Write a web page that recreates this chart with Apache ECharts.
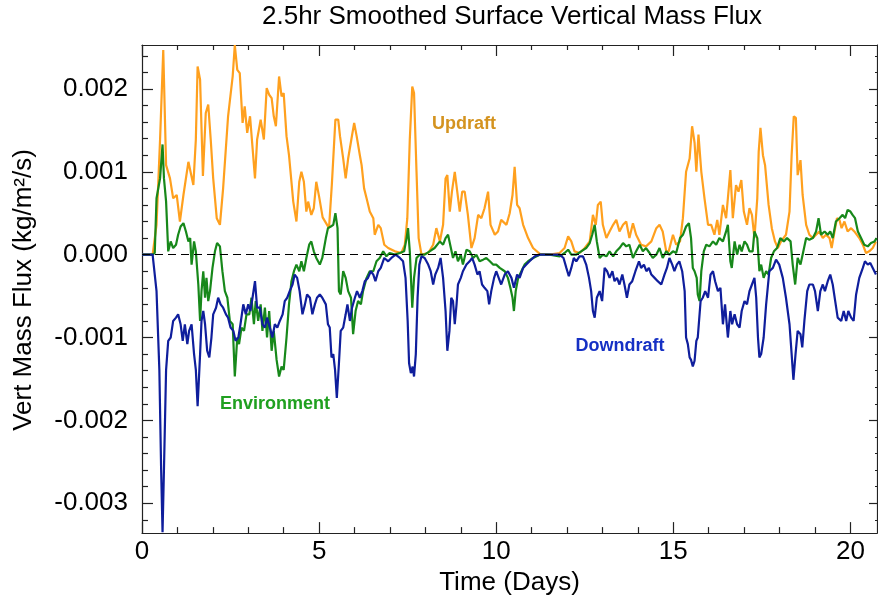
<!DOCTYPE html>
<html>
<head>
<meta charset="utf-8">
<script src="https://cdn.jsdelivr.net/npm/echarts@6/dist/echarts.min.js"></script>
<style>
  html, body { margin: 0; padding: 0; background: #fff; }
  #chart { width: 878px; height: 601px; }
</style>
</head>
<body>
<div id="chart"></div>
<script>
// values in 1e-3 kg/m2/s, time in days
let updraft = [[0,0],[0.3,0],[0.41,0.36],[0.51,1.39],[0.6,2.47],[0.68,1.08],[0.79,0.92],[0.88,0.68],[0.98,0.72],[1.07,0.40],[1.17,0.72],[1.31,1.12],[1.37,1.0],[1.45,0.84],[1.52,1.39],[1.57,2.27],[1.64,2.11],[1.72,0.95],[1.80,1.71],[1.87,1.81],[1.94,1.39],[2.01,0.92],[2.11,0.44],[2.20,0.36],[2.29,0.80],[2.43,1.67],[2.56,2.15],[2.62,2.53],[2.69,2.23],[2.76,2.19],[2.84,1.59],[2.90,1.79],[2.97,1.47],[3.05,1.67],[3.19,0.92],[3.25,1.39],[3.35,1.63],[3.44,1.39],[3.52,2.01],[3.59,1.93],[3.66,1.89],[3.72,1.67],[3.78,1.55],[3.87,2.15],[3.94,1.91],[4.0,1.95],[4.08,1.43],[4.15,1.20],[4.27,0.64],[4.36,0.40],[4.44,0.88],[4.50,1.0],[4.57,0.88],[4.64,0.52],[4.69,0.64],[4.78,0.48],[4.85,0.56],[4.92,0.88],[5.0,0.70],[5.1,0.45],[5.28,0.32],[5.36,0.85],[5.46,1.63],[5.54,1.63],[5.59,1.43],[5.68,1.16],[5.75,0.92],[5.82,1.16],[5.91,1.39],[5.99,1.59],[6.06,1.43],[6.15,1.20],[6.20,1.08],[6.27,0.80],[6.34,0.68],[6.43,0.52],[6.53,0.44],[6.57,0.24],[6.67,0.36],[6.74,0.32],[6.84,0.12],[6.95,0.08],[7.14,0.04],[7.32,0.02],[7.42,0.12],[7.49,0.44],[7.56,1.39],[7.63,2.03],[7.68,1.95],[7.75,1.0],[7.81,0.20],[7.89,0.0],[8.08,0.02],[8.22,0.12],[8.31,0.32],[8.41,0.16],[8.50,0.36],[8.57,0.92],[8.62,0.96],[8.69,0.52],[8.75,0.76],[8.83,1.0],[8.90,0.76],[8.97,0.52],[9.04,0.76],[9.11,0.76],[9.20,0.48],[9.30,0.08],[9.39,0.20],[9.49,0.48],[9.58,0.44],[9.67,0.56],[9.77,0.76],[9.84,0.36],[9.96,0.24],[10.05,0.28],[10.14,0.42],[10.29,0.36],[10.38,0.50],[10.46,0.72],[10.52,1.06],[10.59,0.60],[10.66,0.56],[10.76,0.36],[10.90,0.20],[11.04,0.08],[11.23,0.01],[11.51,0.0],[11.79,0.02],[11.93,0.08],[12.03,0.22],[12.12,0.16],[12.21,0.04],[12.35,0.02],[12.50,0.08],[12.64,0.16],[12.73,0.48],[12.81,0.36],[12.87,0.60],[12.95,0.64],[13.01,0.36],[13.11,0.20],[13.20,0.28],[13.30,0.36],[13.39,0.42],[13.48,0.28],[13.58,0.36],[13.67,0.40],[13.76,0.20],[13.86,0.38],[13.95,0.24],[14.09,0.12],[14.23,0.10],[14.38,0.16],[14.52,0.32],[14.61,0.36],[14.70,0.28],[14.80,0.04],[14.87,0.04],[14.99,0.24],[15.08,0.12],[15.19,0.16],[15.27,0.44],[15.36,1.0],[15.46,1.16],[15.53,1.55],[15.60,1.35],[15.65,1.0],[15.71,1.45],[15.79,1.0],[15.88,0.68],[15.98,0.36],[16.07,0.36],[16.16,0.24],[16.24,0.42],[16.30,0.24],[16.40,0.60],[16.49,0.44],[16.54,0.68],[16.61,1.02],[16.68,0.44],[16.77,0.84],[16.84,0.76],[16.92,0.90],[16.99,0.52],[17.08,0.36],[17.15,0.56],[17.22,0.48],[17.29,0.20],[17.37,0.68],[17.41,1.24],[17.46,1.53],[17.53,1.20],[17.59,1.08],[17.69,0.60],[17.78,0.32],[17.87,0.16],[17.95,0.08],[18.04,0.16],[18.18,0.24],[18.28,0.52],[18.34,1.20],[18.40,1.67],[18.46,1.65],[18.51,0.96],[18.59,1.14],[18.65,0.72],[18.75,0.36],[18.84,0.24],[18.94,0.20],[19.03,0.24],[19.12,0.28],[19.22,0.20],[19.31,0.24],[19.41,0.20],[19.47,0.08],[19.55,0.28],[19.62,0.44],[19.69,0.42],[19.75,0.32],[19.83,0.40],[19.92,0.28],[20.02,0.32],[20.11,0.28],[20.25,0.20],[20.35,0.12],[20.44,0.02],[20.53,0.04],[20.63,0.08],[20.72,0.16]];

let environment = [[0,0],[0.3,0],[0.36,0.02],[0.41,0.68],[0.51,0.92],[0.58,1.33],[0.62,0.92],[0.68,0.64],[0.74,0.04],[0.81,0.16],[0.88,0.08],[0.96,0.12],[1.02,0.24],[1.09,0.34],[1.17,0.38],[1.24,0.28],[1.31,0.16],[1.36,0.20],[1.40,-0.12],[1.47,0.16],[1.52,0.04],[1.59,-0.36],[1.64,-0.80],[1.68,-0.44],[1.73,-0.20],[1.78,-0.52],[1.82,-0.28],[1.87,-0.56],[1.92,-0.44],[1.99,-0.16],[2.06,0.04],[2.12,0.14],[2.20,0.10],[2.27,-0.20],[2.34,-0.44],[2.41,-0.52],[2.48,-0.80],[2.56,-0.84],[2.62,-1.47],[2.69,-1.0],[2.74,-1.08],[2.81,-0.88],[2.88,-0.92],[2.95,-0.72],[3.03,-0.72],[3.09,-0.52],[3.16,-0.84],[3.21,-0.56],[3.28,-0.80],[3.35,-0.60],[3.40,-0.92],[3.47,-0.64],[3.53,-1.0],[3.59,-0.68],[3.66,-1.16],[3.72,-0.92],[3.80,-1.27],[3.87,-1.47],[3.94,-1.35],[4.0,-1.39],[4.08,-1.0],[4.15,-0.60],[4.22,-0.32],[4.29,-0.20],[4.36,-0.12],[4.44,-0.20],[4.50,-0.08],[4.57,-0.20],[4.64,-0.04],[4.72,0.12],[4.78,0.16],[4.85,0.04],[4.92,-0.04],[5.02,-0.12],[5.09,-0.04],[5.19,0.20],[5.25,0.32],[5.33,0.34],[5.40,0.36],[5.46,0.50],[5.52,0.32],[5.56,-0.44],[5.61,-0.48],[5.68,-0.20],[5.75,-0.28],[5.82,-0.44],[5.90,-0.52],[5.96,-0.96],[6.03,-0.68],[6.10,-0.56],[6.18,-0.60],[6.24,-0.44],[6.34,-0.28],[6.43,-0.20],[6.53,-0.20],[6.62,-0.08],[6.71,-0.04],[6.81,0.04],[6.90,-0.02],[6.99,0.02],[7.14,0.0],[7.28,0.02],[7.40,0.04],[7.47,0.20],[7.51,0.32],[7.56,0.04],[7.63,-0.64],[7.68,-0.28],[7.75,-0.04],[7.84,0.0],[7.98,0.0],[8.12,0.04],[8.26,0.08],[8.41,0.16],[8.50,0.12],[8.57,0.20],[8.64,0.24],[8.72,0.08],[8.78,-0.04],[8.85,0.04],[8.92,-0.08],[9.0,0.0],[9.06,-0.12],[9.16,0.06],[9.25,0.04],[9.35,-0.04],[9.44,0.0],[9.53,-0.08],[9.63,-0.06],[9.72,-0.04],[9.82,-0.08],[9.91,-0.12],[10.0,-0.12],[10.10,-0.16],[10.24,-0.20],[10.33,-0.28],[10.40,-0.40],[10.46,-0.52],[10.50,-0.68],[10.55,-0.44],[10.62,-0.28],[10.71,-0.20],[10.80,-0.12],[10.90,-0.08],[11.04,-0.04],[11.23,0],[11.51,0],[11.79,-0.02],[11.93,0.02],[12.03,0.06],[12.12,0],[12.26,0],[12.40,0.04],[12.54,0.08],[12.64,0.14],[12.71,0.24],[12.78,0.36],[12.84,0.16],[12.92,-0.04],[13.01,0],[13.11,-0.02],[13.20,0.04],[13.30,-0.02],[13.39,0.04],[13.48,0.08],[13.58,0.14],[13.67,0.10],[13.76,0.12],[13.86,-0.04],[13.95,0.04],[14.05,0.12],[14.14,0.04],[14.23,0.08],[14.33,0.02],[14.42,-0.04],[14.52,0],[14.61,0.08],[14.70,-0.04],[14.80,0.04],[14.89,0],[14.99,0.04],[15.08,0.02],[15.19,0.20],[15.27,0.24],[15.36,0.34],[15.44,0.38],[15.50,0.20],[15.55,-0.16],[15.60,-0.20],[15.66,-0.28],[15.69,-0.48],[15.74,-0.56],[15.79,-0.20],[15.86,0.04],[15.93,0.12],[16.02,0.10],[16.12,0.16],[16.21,0.12],[16.30,0.20],[16.40,0.16],[16.49,0.28],[16.54,0.36],[16.61,-0.08],[16.65,-0.16],[16.73,0.16],[16.80,0],[16.87,0.12],[16.93,0.04],[17.01,0.16],[17.08,0.12],[17.15,0.04],[17.24,0.04],[17.29,0.28],[17.37,0.20],[17.43,-0.20],[17.48,-0.12],[17.55,-0.28],[17.62,-0.20],[17.69,-0.24],[17.76,-0.04],[17.84,0.04],[17.93,0.08],[18.02,0.20],[18.12,0.16],[18.21,0.20],[18.31,0.16],[18.37,-0.12],[18.44,-0.36],[18.51,-0.04],[18.59,-0.12],[18.65,0],[18.75,0.20],[18.84,0.18],[18.94,0.20],[19.03,0.28],[19.10,0.44],[19.17,0.24],[19.27,0.28],[19.36,0.24],[19.43,0.28],[19.50,0.20],[19.59,0.40],[19.69,0.44],[19.78,0.48],[19.85,0.44],[19.92,0.54],[20.0,0.52],[20.06,0.48],[20.13,0.44],[20.21,0.28],[20.30,0.20],[20.39,0.12],[20.49,0.10],[20.58,0.14],[20.68,0.16],[20.74,0.20]];

let downdraft = [[0,0],[0.3,0],[0.32,-0.08],[0.41,-0.44],[0.49,-1.39],[0.54,-2.59],[0.58,-3.35],[0.62,-2.59],[0.68,-1.39],[0.74,-1.04],[0.81,-1.0],[0.88,-0.80],[0.96,-0.76],[1.02,-0.72],[1.09,-0.84],[1.15,-1.04],[1.21,-0.84],[1.28,-1.08],[1.33,-0.92],[1.40,-0.84],[1.47,-1.20],[1.52,-1.39],[1.57,-1.83],[1.64,-1.20],[1.68,-0.80],[1.73,-0.68],[1.78,-0.84],[1.84,-1.16],[1.90,-1.24],[1.96,-1.0],[2.01,-0.72],[2.09,-0.64],[2.15,-0.52],[2.22,-0.60],[2.29,-0.64],[2.37,-0.72],[2.43,-0.76],[2.50,-0.88],[2.58,-0.92],[2.64,-1.04],[2.72,-1.0],[2.78,-0.84],[2.86,-0.60],[2.93,-0.72],[3.0,-0.60],[3.06,-0.68],[3.12,-0.52],[3.19,-0.32],[3.25,-0.64],[3.33,-0.64],[3.40,-0.84],[3.47,-0.88],[3.53,-0.76],[3.61,-0.88],[3.68,-1.0],[3.75,-0.84],[3.82,-0.88],[3.89,-0.80],[3.97,-0.72],[4.03,-0.56],[4.10,-0.52],[4.17,-0.44],[4.25,-0.36],[4.31,-0.24],[4.38,-0.28],[4.45,-0.44],[4.53,-0.72],[4.60,-0.60],[4.66,-0.48],[4.74,-0.52],[4.81,-0.72],[4.88,-0.60],[4.94,-0.52],[5.02,-0.48],[5.09,-0.52],[5.19,-0.60],[5.25,-0.84],[5.30,-0.88],[5.35,-1.24],[5.40,-1.20],[5.45,-1.39],[5.50,-1.73],[5.56,-1.31],[5.61,-0.92],[5.68,-0.88],[5.75,-0.72],[5.80,-0.60],[5.87,-0.80],[5.93,-0.64],[6.01,-0.52],[6.07,-0.44],[6.15,-0.52],[6.22,-0.44],[6.29,-0.32],[6.38,-0.28],[6.46,-0.20],[6.53,-0.24],[6.59,-0.32],[6.67,-0.20],[6.74,-0.16],[6.84,-0.04],[6.95,-0.08],[7.04,-0.04],[7.16,0],[7.28,-0.04],[7.37,-0.08],[7.44,-0.28],[7.50,-0.80],[7.54,-1.31],[7.59,-1.43],[7.64,-1.35],[7.68,-1.47],[7.73,-1.20],[7.78,-0.52],[7.83,-0.12],[7.89,-0.02],[7.98,-0.04],[8.08,-0.12],[8.15,-0.20],[8.22,-0.36],[8.28,-0.24],[8.36,-0.16],[8.43,-0.04],[8.50,-0.28],[8.57,-0.68],[8.62,-1.16],[8.68,-0.92],[8.73,-0.52],[8.78,-0.56],[8.83,-0.84],[8.88,-0.60],[8.92,-0.36],[9.0,-0.28],[9.06,-0.20],[9.16,-0.12],[9.25,-0.08],[9.32,-0.04],[9.39,-0.12],[9.47,-0.24],[9.53,-0.20],[9.60,-0.36],[9.67,-0.40],[9.75,-0.44],[9.80,-0.60],[9.86,-0.44],[9.94,-0.28],[10.0,-0.20],[10.07,-0.28],[10.14,-0.36],[10.24,-0.24],[10.33,-0.20],[10.43,-0.28],[10.50,-0.40],[10.59,-0.24],[10.66,-0.28],[10.76,-0.16],[10.85,-0.12],[10.94,-0.08],[11.09,-0.02],[11.23,0],[11.79,0],[11.90,-0.04],[11.98,-0.16],[12.05,-0.26],[12.12,-0.16],[12.19,-0.04],[12.26,-0.08],[12.35,-0.02],[12.45,-0.02],[12.54,-0.12],[12.62,-0.28],[12.68,-0.44],[12.73,-0.68],[12.78,-0.76],[12.84,-0.52],[12.92,-0.44],[12.99,-0.56],[13.06,-0.16],[13.13,-0.20],[13.20,-0.28],[13.28,-0.20],[13.34,-0.32],[13.41,-0.28],[13.48,-0.36],[13.56,-0.24],[13.62,-0.36],[13.69,-0.52],[13.76,-0.36],[13.84,-0.32],[13.93,-0.20],[14.03,-0.08],[14.09,-0.16],[14.17,-0.12],[14.24,-0.20],[14.31,-0.16],[14.38,-0.24],[14.47,-0.28],[14.56,-0.32],[14.66,-0.36],[14.75,-0.24],[14.82,-0.16],[14.89,-0.04],[14.97,-0.12],[15.03,-0.20],[15.10,-0.12],[15.17,-0.08],[15.25,-0.20],[15.32,-0.44],[15.36,-1.0],[15.41,-1.08],[15.46,-1.24],[15.50,-1.27],[15.55,-1.35],[15.60,-1.28],[15.65,-1.04],[15.69,-1.0],[15.77,-0.56],[15.83,-0.52],[15.90,-0.44],[15.98,-0.52],[16.05,-0.24],[16.12,-0.20],[16.18,-0.32],[16.26,-0.44],[16.33,-0.40],[16.40,-0.84],[16.46,-0.60],[16.54,-1.0],[16.61,-0.68],[16.66,-0.84],[16.73,-0.72],[16.80,-0.84],[16.87,-0.88],[16.93,-0.68],[17.01,-0.56],[17.08,-0.60],[17.15,-0.44],[17.22,-0.36],[17.29,-0.28],[17.34,-0.52],[17.39,-1.0],[17.43,-1.24],[17.48,-1.20],[17.55,-1.0],[17.62,-0.60],[17.71,-0.20],[17.81,-0.16],[17.90,-0.06],[17.99,-0.12],[18.09,-0.28],[18.18,-0.52],[18.28,-0.84],[18.34,-1.20],[18.39,-1.51],[18.45,-1.20],[18.51,-0.92],[18.59,-0.96],[18.64,-1.12],[18.70,-0.80],[18.78,-0.44],[18.84,-0.36],[18.94,-0.36],[19.0,-0.44],[19.08,-0.68],[19.15,-0.44],[19.22,-0.36],[19.28,-0.44],[19.36,-0.32],[19.43,-0.24],[19.50,-0.36],[19.57,-0.56],[19.64,-0.76],[19.74,-0.80],[19.81,-0.68],[19.88,-0.80],[19.94,-0.68],[20.02,-0.76],[20.09,-0.80],[20.16,-0.48],[20.25,-0.28],[20.35,-0.16],[20.41,-0.08],[20.49,-0.12],[20.56,-0.10],[20.63,-0.16],[20.72,-0.24]];

let xTicks = [0, 5, 10, 15, 20];
let xMinorTicks = [1, 2, 3, 4, 6, 7, 8, 9, 11, 12, 13, 14, 16, 17, 18, 19];
let yTicks = [-3, -2, -1, 0, 1, 2];
let yMinorTicks = [-3.2, -2.8, -2.6, -2.4, -2.2, -1.8, -1.6, -1.4, -1.2, -0.8, -0.6, -0.4, -0.2, 0.2, 0.4, 0.6, 0.8, 1.2, 1.4, 1.6, 1.8, 2.2, 2.4];

let xMin = 0, xMax = 20.75;
let yMin = -3.36, yMax = 2.53;
let font = 'Liberation Sans, Arial, sans-serif';
let axisColor = '#222';

function xAx(pos, ticks, len, showLine, showLabel, extra) {
	return Object.assign({
		type: 'value', position: pos, min: xMin, max: xMax,
		axisLine: { show: showLine, onZero: false, lineStyle: { color: axisColor, width: 1.2 } },
		axisTick: { show: true, inside: true, length: len, customValues: ticks, lineStyle: { color: axisColor, width: 1.2 } },
		axisLabel: { show: showLabel, customValues: ticks, margin: 6, color: '#000', fontFamily: font, fontSize: 26 },
		splitLine: { show: false }
	}, extra || {});
}
function yAx(pos, ticks, len, showLine, showLabel) {
	return {
		type: 'value', position: pos, min: yMin, max: yMax,
		axisLine: { show: showLine, onZero: false, lineStyle: { color: axisColor, width: 1.2 } },
		axisTick: { show: true, inside: true, length: len, customValues: ticks, lineStyle: { color: axisColor, width: 1.2 } },
		axisLabel: {
			show: showLabel, customValues: ticks, margin: 14, color: '#000', fontFamily: font, fontSize: 26,
			formatter: v => (v / 1000).toFixed(3)
		},
		splitLine: { show: false }
	};
}

let chart = echarts.init(document.getElementById('chart'));
let option = {
	backgroundColor: '#fff',
	animation: false,
	grid: { left: 142, right: 1, top: 45, bottom: 65, containLabel: false },
	xAxis: [
		xAx('bottom', xTicks, 11, true, true, {
			name: 'Time (Days)', nameLocation: 'middle', nameGap: 32,
			nameTextStyle: { color: '#000', fontFamily: font, fontSize: 26 }
		}),
		xAx('bottom', xMinorTicks, 6, false, false),
		xAx('top', xTicks, 11, true, false),
		xAx('top', xMinorTicks, 5, false, false)
	],
	yAxis: [
		yAx('left', yTicks, 11, true, true),
		yAx('left', yMinorTicks, 6, false, false),
		yAx('right', yTicks, 8, true, false),
		yAx('right', yMinorTicks, 2, false, false)
	],
	graphic: [
		{ type: 'text', x: 512, y: 17, style: { text: '2.5hr Smoothed Surface Vertical Mass Flux', fill: '#000', font: '26px ' + font, align: 'center', verticalAlign: 'middle' } },
		{ type: 'text', x: 24, y: 290, rotation: Math.PI / 2, style: { text: 'Vert Mass Flux (kg/m²/s)', fill: '#000', font: '26px ' + font, align: 'center', verticalAlign: 'middle' } },
		{ type: 'text', x: 464, y: 124, style: { text: 'Updraft', fill: '#d4931f', font: 'bold 18px ' + font, align: 'center', verticalAlign: 'middle' } },
		{ type: 'text', x: 275, y: 404, style: { text: 'Environment', fill: '#20a020', font: 'bold 18px ' + font, align: 'center', verticalAlign: 'middle' } },
		{ type: 'text', x: 620, y: 346, style: { text: 'Downdraft', fill: '#1530c4', font: 'bold 18px ' + font, align: 'center', verticalAlign: 'middle' } }
	],
	series: [
		{
			name: 'Updraft', type: 'line', data: updraft, showSymbol: false, clip: true,
			lineStyle: { color: '#ffa01e', width: 2.2 }, itemStyle: { color: '#ffa01e' },
			markLine: {
				silent: true, symbol: 'none', label: { show: false },
				lineStyle: { color: '#000', type: [8, 5], width: 1.2 },
				data: [{ yAxis: 0 }]
			}
		},
		{
			name: 'Environment', type: 'line', data: environment, showSymbol: false, clip: true,
			lineStyle: { color: '#17881a', width: 2.2 }, itemStyle: { color: '#17881a' }
		},
		{
			name: 'Downdraft', type: 'line', data: downdraft, showSymbol: false, clip: true,
			lineStyle: { color: '#0f1e9c', width: 2.2 }, itemStyle: { color: '#0f1e9c' }
		}
	]
};
chart.setOption(option);
</script>
</body>
</html>
